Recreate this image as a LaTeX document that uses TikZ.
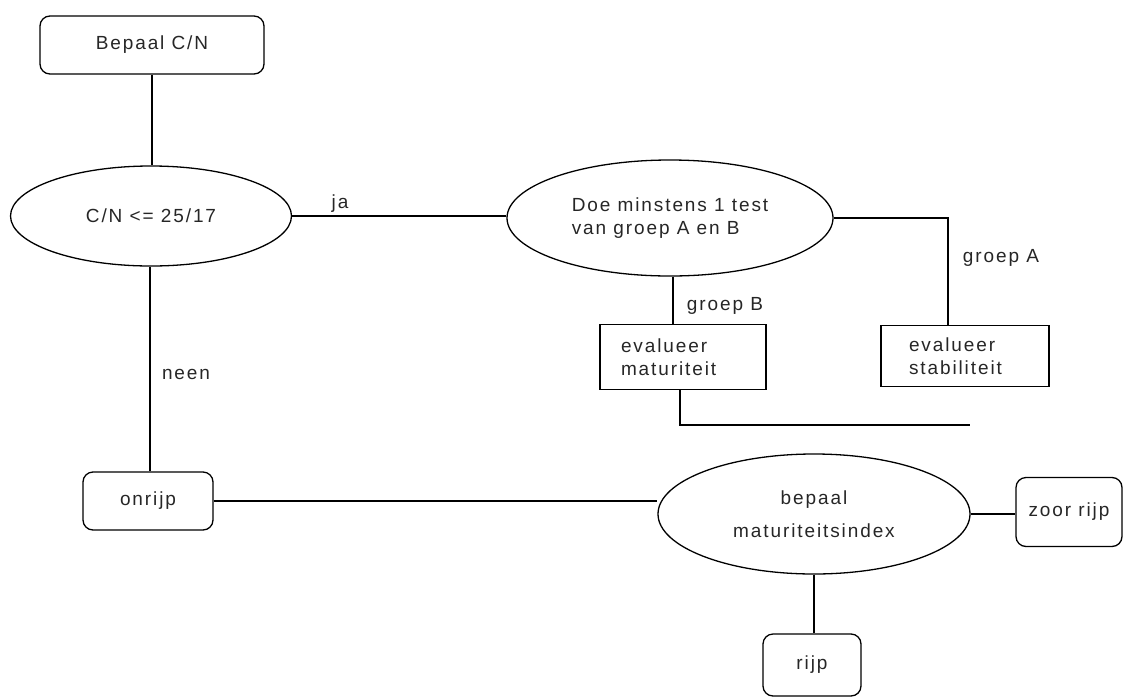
\documentclass[tikz,border=0pt]{standalone}
\usepackage{fontspec}
\setmainfont{Liberation Sans}[LetterSpace=10]
\usetikzlibrary{shapes.geometric}
\begin{document}
\begin{tikzpicture}[x=1pt,y=-1pt,
  every node/.style={font=\fontsize{19}{23}\selectfont, text=black!85, inner sep=2pt},
  conn/.style={draw=black, line width=1.3pt},
  roundbox/.style={draw=black, line width=1.3pt, rounded corners=10pt, align=center},
  plainbox/.style={draw=black, line width=1.3pt, align=left},
  oval/.style={draw=black, line width=1.3pt, ellipse, inner sep=0pt, align=center},
  lbl/.style={font=\fontsize{19}{23}\selectfont}]
\useasboundingbox (0,0) rectangle (1141,697);
\node[roundbox, minimum width=224, minimum height=58] (bepaal) at (152,45) {Bepaal C/N};
\node[oval, minimum width=281, minimum height=100] (cn) at (151,216) {C/N <= 25/17};
\node[oval, minimum width=326, minimum height=116, align=left] (doe) at (670,218) {Doe minstens 1 test\\van groep A en B};
\node[plainbox, minimum width=166, minimum height=65, text width=124] (mat) at (683,357) {evalueer\\maturiteit};
\node[plainbox, minimum width=168, minimum height=61, text width=112] (stab) at (965,356) {evalueer\\stabiliteit};
\node[roundbox, minimum width=130, minimum height=58] (onrijp) at (148,501) {onrijp};
\node[oval, minimum width=312, minimum height=120] (bpm) at (814,514) {bepaal\\[10pt]maturiteitsindex};
\node[roundbox, minimum width=106, minimum height=69] (zoor) at (1069,512) {zoor rijp};
\node[roundbox, minimum width=98, minimum height=62] (rijp) at (812,665) {rijp};
\coordinate (aT) at (948,326);
\coordinate (mB) at (680,425);
\coordinate (mE) at (970,425);
\draw[conn] (bepaal.south) -- (bepaal.south |- cn.north);
\draw[conn] (cn.east) -- (cn.east -| doe.west);
\node[lbl] (ja) at (340,204) {ja};
\draw[conn] (doe.east) -| (aT);
\node[lbl] (gA) at (1001,258) {groep A};
\draw[conn] (doe.south -| 673,0) -- (mat.north -| 673,0);
\node[lbl] (gB) at (725,306) {groep B};
\draw[conn] (mat.south -| mB) -- (mB) -- (mE);
\draw[conn] (cn.south -| 150,0) -- (onrijp.north -| 150,0);
\node[lbl] (neen) at (186,374) {neen};
\draw[conn] (onrijp.east) -- (onrijp.east -| bpm.west);
\draw[conn] (bpm.east) -- (bpm.east -| zoor.west);
\draw[conn] (bpm.south) -- (bpm.south |- rijp.north);
\end{tikzpicture}
\end{document}
